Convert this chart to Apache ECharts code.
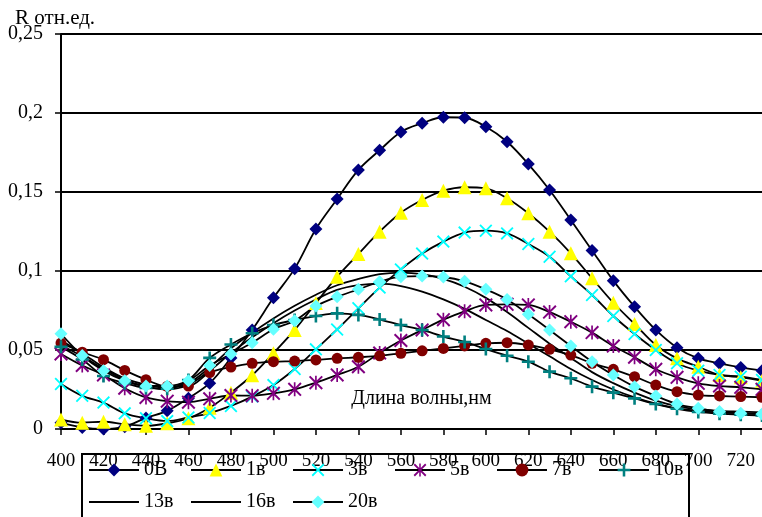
<!DOCTYPE html>
<html>
<head>
<meta charset="utf-8">
<script src="https://cdn.jsdelivr.net/npm/echarts@6/dist/echarts.min.js"></script>
<style>
  html, body { margin: 0; padding: 0; background: #fff; }
  #chart { width: 762px; height: 517px; }
</style>
</head>
<body>
<div id="chart"></div>
<script>
// Wavelength grid, nm
const wavelengths = [400, 410, 420, 430, 440, 450, 460, 470, 480, 490, 500, 510, 520, 530, 540, 550, 560,
  570, 580, 590, 600, 610, 620, 630, 640, 650, 660, 670, 680, 690, 700, 710, 720, 730];

// Reflectance, relative units, one array per applied voltage
const r0 = [0.004, 0.001, 0.000, 0.0015, 0.007, 0.0115, 0.0195, 0.029, 0.045, 0.0627, 0.083, 0.1015, 0.1266,
  0.1456, 0.164, 0.1764, 0.188, 0.1935, 0.1973, 0.197, 0.1913, 0.1818, 0.1677, 0.1513, 0.1323, 0.113, 0.0939,
  0.0774, 0.0627, 0.0515, 0.0447, 0.0416, 0.039, 0.0369];
const r1 = [0.006, 0.004, 0.0046, 0.003, 0.002, 0.0036, 0.0068, 0.0135, 0.023, 0.034, 0.048, 0.0627, 0.0797,
  0.0964, 0.1108, 0.1249, 0.1369, 0.1449, 0.1508, 0.153, 0.1523, 0.146, 0.1365, 0.1249, 0.1112, 0.0954, 0.0799,
  0.0665, 0.0532, 0.0447, 0.0394, 0.0342, 0.0327, 0.0306];
const r3 = [0.0285, 0.021, 0.0167, 0.0099, 0.0068, 0.005, 0.0073, 0.0101, 0.0146, 0.0205, 0.0278, 0.038, 0.0504,
  0.063, 0.0764, 0.0895, 0.101, 0.111, 0.1186, 0.1243, 0.1255, 0.1238, 0.1171, 0.109, 0.0966, 0.0848, 0.0715,
  0.0601, 0.05, 0.0416, 0.0369, 0.0342, 0.0331, 0.031];
const r5 = [0.0475, 0.0402, 0.0342, 0.0258, 0.02, 0.0176, 0.017, 0.0191, 0.0212, 0.0211, 0.0226, 0.0251, 0.0293,
  0.0342, 0.0394, 0.0481, 0.056, 0.0627, 0.0692, 0.0745, 0.0785, 0.0789, 0.0785, 0.074, 0.0679, 0.061, 0.0525,
  0.0454, 0.0378, 0.0327, 0.0289, 0.0272, 0.0264, 0.0251];
const r7 = [0.0544, 0.0486, 0.0439, 0.0371, 0.0312, 0.027, 0.0272, 0.0357, 0.0392, 0.0416, 0.0426, 0.043, 0.0437,
  0.0447, 0.0454, 0.0463, 0.0479, 0.0495, 0.051, 0.0526, 0.0542, 0.0546, 0.0532, 0.0504, 0.0468, 0.0416, 0.0378,
  0.0331, 0.0278, 0.0236, 0.0215, 0.0209, 0.0205, 0.0201];
const r10 = [0.052, 0.044, 0.0335, 0.029, 0.026, 0.0255, 0.031, 0.045, 0.0535, 0.0606, 0.0658, 0.069, 0.0715,
  0.0732, 0.0722, 0.0693, 0.0658, 0.0627, 0.0585, 0.0551, 0.0506, 0.0464, 0.0426, 0.0363, 0.0321, 0.0268, 0.023,
  0.0194, 0.0158, 0.0128, 0.0108, 0.0097, 0.009, 0.0085];
const r13 = [0.053, 0.046, 0.038, 0.031, 0.027, 0.025, 0.028, 0.037, 0.048, 0.058, 0.067, 0.075, 0.082, 0.088,
  0.091, 0.092, 0.0905, 0.087, 0.082, 0.076, 0.069, 0.062, 0.054, 0.046, 0.038, 0.031, 0.025, 0.020, 0.016,
  0.013, 0.0115, 0.0105, 0.010, 0.0095];
const r16 = [0.056, 0.048, 0.039, 0.032, 0.028, 0.026, 0.029, 0.039, 0.051, 0.061, 0.070, 0.078, 0.085, 0.091,
  0.095, 0.098, 0.099, 0.098, 0.095, 0.090, 0.083, 0.074, 0.064, 0.054, 0.045, 0.036, 0.029, 0.023, 0.018,
  0.0145, 0.0125, 0.0115, 0.011, 0.0105];
const r20 = [0.0603, 0.0465, 0.0369, 0.0306, 0.0272, 0.0272, 0.0306, 0.0402, 0.0475, 0.0546, 0.0631, 0.0685,
  0.0778, 0.0837, 0.0884, 0.0932, 0.0964, 0.0968, 0.0962, 0.0935, 0.0884, 0.082, 0.0726, 0.0627, 0.0525, 0.0426,
  0.0342, 0.0268, 0.0209, 0.0158, 0.0131, 0.011, 0.0099, 0.0095];

const seriesNames = ['0В', '1в', '3в', '5в', '7в', '10в', '13в', '16в', '20в'];
const seriesValues = [r0, r1, r3, r5, r7, r10, r13, r16, r20];

const FONT = '"Liberation Serif", "Times New Roman", serif';

// Marker shapes drawn as filled outlines
const CROSS_X = 'path://M0,1L1,0L5,4L9,0L10,1L6,5L10,9L9,10L5,6L1,10L0,9L4,5Z';
const ASTERISK = 'path://M0,1L1,0L5,4L9,0L10,1L6,5L10,9L9,10L5,6L1,10L0,9L4,5ZM4.4,0L5.6,0L5.6,10L4.4,10Z';
const PLUS = 'path://M4,0L6,0L6,4L10,4L10,6L6,6L6,10L4,10L4,6L0,6L0,4L4,4Z';

const markerStyles = [
  { symbol: 'diamond', size: 13, color: '#000080' },
  { symbol: 'triangle', size: 14, color: '#FFFF00' },
  { symbol: CROSS_X, size: 13, color: '#00FFFF' },
  { symbol: ASTERISK, size: 14, color: '#800080' },
  { symbol: 'circle', size: 11, color: '#800000' },
  { symbol: PLUS, size: 13, color: '#008080' },
  { symbol: 'none', size: 0, color: 'rgba(0,0,0,0)' },
  { symbol: 'none', size: 0, color: 'rgba(0,0,0,0)' },
  { symbol: 'diamond', size: 13, color: '#66FFFF' }
];

const series = seriesNames.map((name, i) => ({
  name: name,
  type: 'line',
  smooth: 0.35,
  data: wavelengths.map((w, j) => [w, seriesValues[i][j]]),
  symbol: markerStyles[i].symbol,
  symbolSize: markerStyles[i].size,
  showAllSymbol: true,
  itemStyle: { color: markerStyles[i].color },
  lineStyle: { color: '#000', width: 1.8 },
  emphasis: { disabled: true }
}));

// Legend in a fixed grid: six entries per row, each cell 102 px wide
const LEGEND_X0 = 88, LEGEND_CELL = 102, LEGEND_ROW_TOP = [460, 492];
const legends = seriesNames.map((name, i) => ({
  left: LEGEND_X0 + (i % 6) * LEGEND_CELL,
  top: LEGEND_ROW_TOP[Math.floor(i / 6)],
  padding: 0,
  itemWidth: 50,
  itemHeight: 16,
  selectedMode: false,
  textStyle: { fontFamily: FONT, fontSize: 20, color: '#000' },
  data: [name]
}));

const chart = echarts.init(document.getElementById('chart'), null, { renderer: 'canvas' });
chart.setOption({
  animation: false,
  backgroundColor: '#fff',
  textStyle: { fontFamily: FONT, color: '#000' },
  grid: { left: 61, right: -3, top: 34, bottom: 88, containLabel: false },
  graphic: [
    {
      type: 'text',
      left: 15,
      top: 8,
      style: { text: 'R отн.ед.', font: '21px ' + FONT, fill: '#000' }
    },
    {
      type: 'rect',
      shape: { x: 82, y: 454, width: 607, height: 100 },
      style: { fill: 'none', stroke: '#000', lineWidth: 2 },
      z: -1
    }
  ],
  xAxis: {
    type: 'value',
    min: 400,
    max: 730,
    interval: 20,
    name: 'Длина волны,нм',
    nameLocation: 'middle',
    nameGap: -40,
    nameTextStyle: { fontFamily: FONT, fontSize: 20, color: '#000', padding: [0, 0, 0, 20] },
    axisLine: { show: true, onZero: false, lineStyle: { color: '#000', width: 2 } },
    axisTick: { show: true, inside: false, length: 6, lineStyle: { color: '#000', width: 1.5 } },
    axisLabel: { margin: 23, fontSize: 19, fontFamily: FONT, color: '#000', showMaxLabel: false },
    splitLine: { show: false }
  },
  yAxis: {
    type: 'value',
    min: 0,
    max: 0.25,
    interval: 0.05,
    axisLine: { show: true, lineStyle: { color: '#000', width: 2 } },
    axisTick: { show: true, length: 6, lineStyle: { color: '#000', width: 1.5 } },
    axisLabel: {
      margin: 18, fontSize: 20, fontFamily: FONT, color: '#000',
      formatter: v => String(+v.toFixed(2)).replace('.', ',')
    },
    splitLine: { show: true, lineStyle: { color: '#000', width: 2 } }
  },
  legend: legends,
  series: series
});
</script>
</body>
</html>
